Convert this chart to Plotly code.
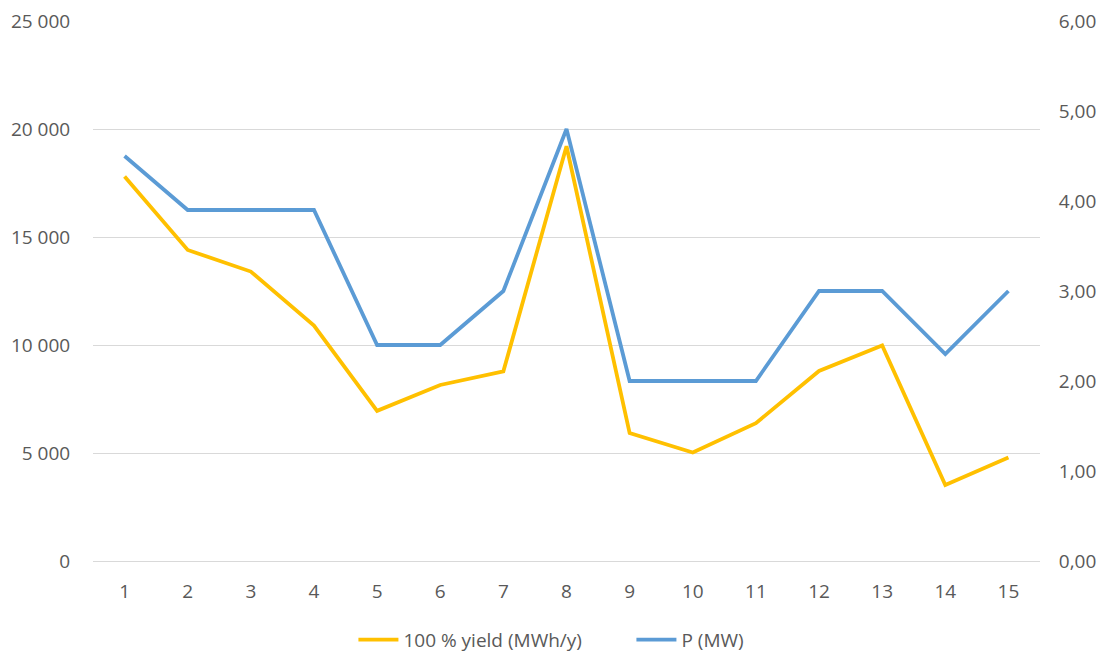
import plotly.graph_objects as go

# Sites 1..15
sites = [str(i) for i in range(1, 16)]
# Annual yield at 100 % (MWh/y), left axis
yield_mwh = [17800, 14400, 13400, 10900, 6950, 8150, 8780, 19200, 5920, 5020, 6380, 8800, 9980, 3520, 4790]
# Installed power (MW), right axis
power_mw = [4.5, 3.9, 3.9, 3.9, 2.4, 2.4, 3.0, 4.8, 2.0, 2.0, 2.0, 3.0, 3.0, 2.3, 3.0]

font_family = "Open Sans, Liberation Sans, sans-serif"
grey = "#595959"
fsize = 19
clear = "rgba(0,0,0,0)"

fig = go.Figure()
fig.add_trace(go.Scatter(
    x=sites, y=yield_mwh, name="100 % yield (MWh/y)", mode="lines",
    line=dict(color="#FFC000", width=3.8), yaxis="y",
))
fig.add_trace(go.Scatter(
    x=sites, y=power_mw, name="P (MW)", mode="lines",
    line=dict(color="#5B9BD5", width=3.8), yaxis="y2",
))

fig.update_layout(
    width=1114, height=661,
    margin=dict(l=93, r=74, t=21, b=100, autoexpand=False),
    paper_bgcolor="white", plot_bgcolor="white",
    separators=", ",
    font=dict(family=font_family, size=fsize, color=grey),
    xaxis=dict(
        type="category", range=[-0.5, 14.5], showgrid=False,
        showline=True, linecolor="#d9d9d9", linewidth=1,
        ticks="outside", ticklen=13, tickcolor=clear,
        tickfont=dict(size=fsize, color=grey),
    ),
    yaxis=dict(
        range=[0, 25000], dtick=5000, tickformat=",.0f",
        showgrid=True, gridcolor="#d9d9d9", gridwidth=1,
        zeroline=False, showline=False,
        ticks="outside", ticklen=18, tickcolor=clear,
        tickfont=dict(size=fsize, color=grey),
    ),
    yaxis2=dict(
        range=[0, 6], dtick=1, tickformat=".2f", overlaying="y", side="right",
        showgrid=False, zeroline=False, showline=False,
        ticks="outside", ticklen=14, tickcolor=clear,
        tickfont=dict(size=fsize, color=grey),
    ),
    legend=dict(
        orientation="h", x=0.275, xanchor="left", y=-0.146, yanchor="middle",
        font=dict(size=fsize, color=grey), itemwidth=40,
        entrywidth=223,
    ),
)

fig.write_html("out.html")
